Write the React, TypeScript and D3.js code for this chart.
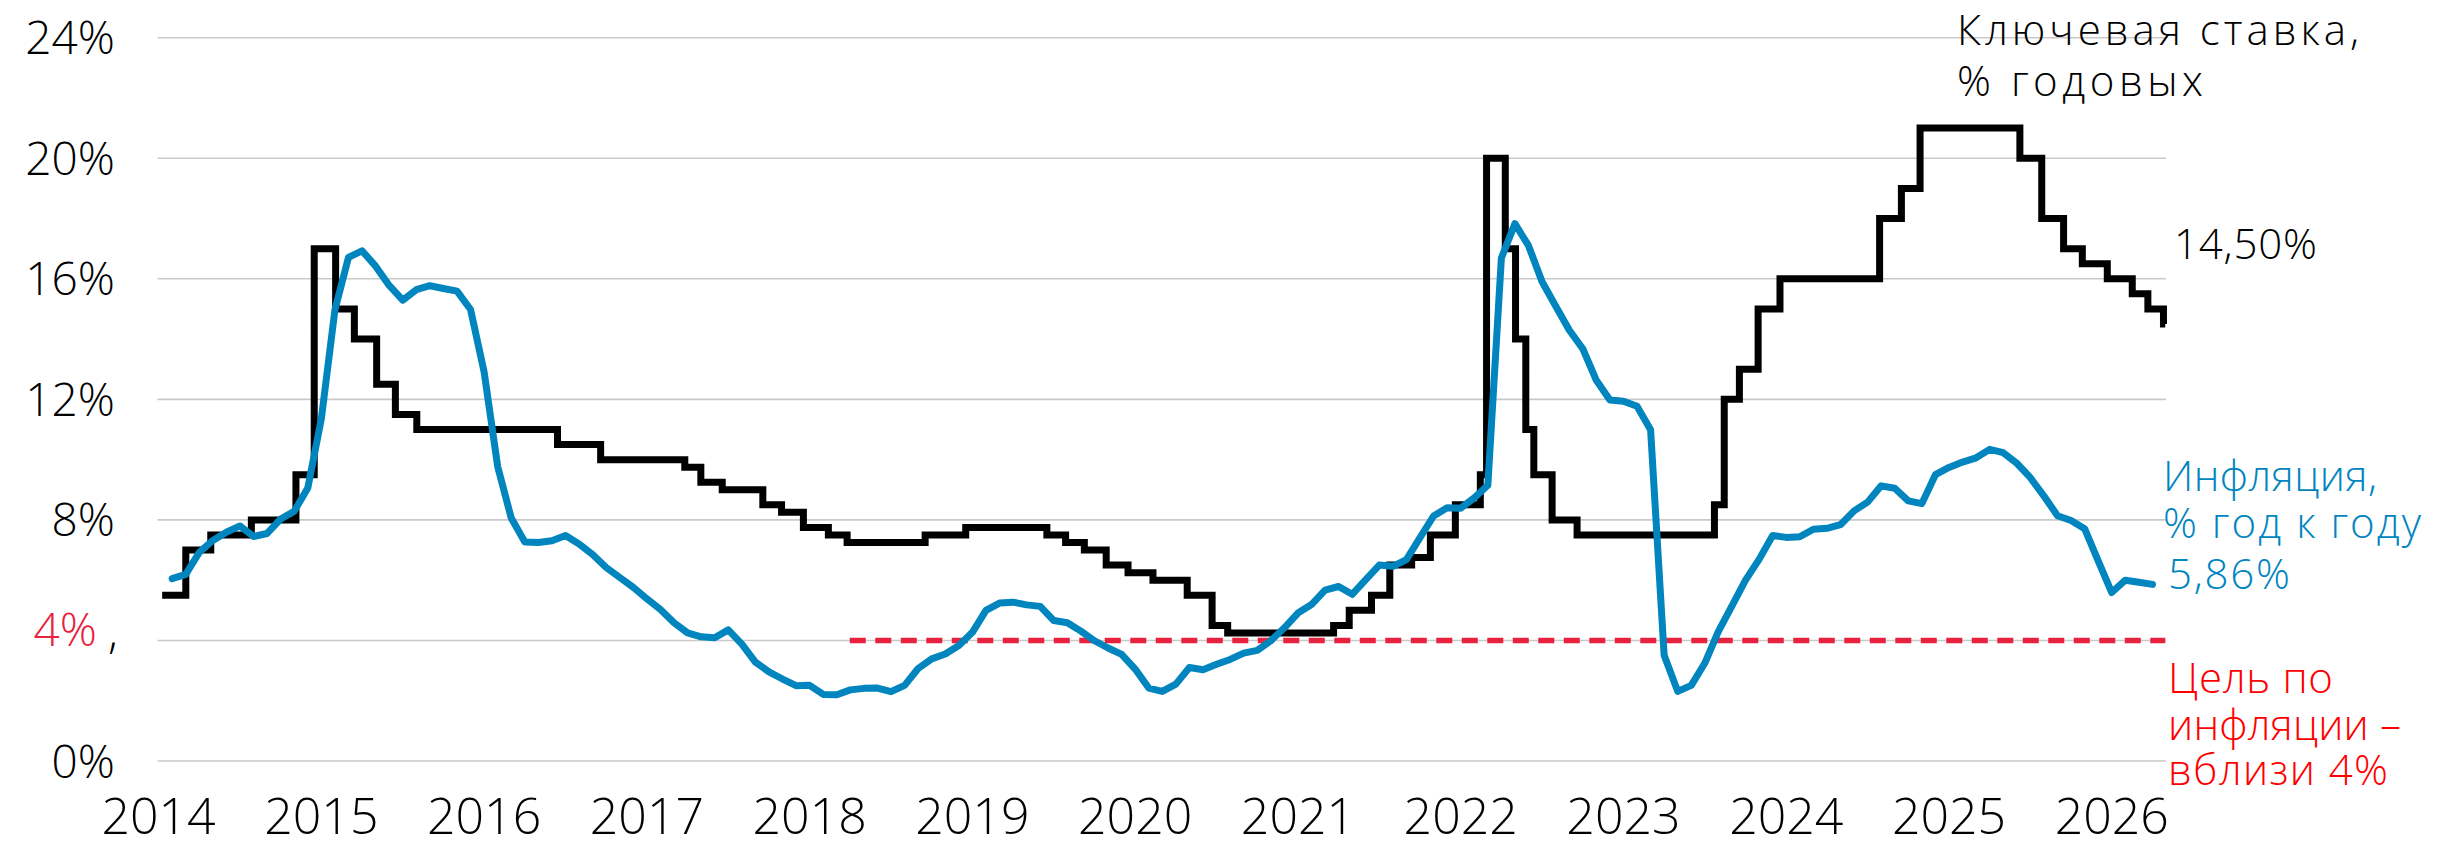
import React from 'react';
import * as d3 from 'd3';

// ---------- DATA ----------
const yearLabels = [2014, 2015, 2016, 2017, 2018, 2019, 2020, 2021, 2022, 2023, 2024, 2025, 2026];
const yTickValues = [0, 4, 8, 12, 16, 20, 24];

// Key rate: effective dates of changes and values (% per year)
const keyRateDates = [
  '2014-01-09', '2014-03-03', '2014-04-28', '2014-07-28', '2014-11-05', '2014-12-16',
  '2015-02-02', '2015-03-16', '2015-05-05', '2015-06-16', '2015-08-03',
  '2016-06-14', '2016-09-19',
  '2017-03-27', '2017-05-02', '2017-06-19', '2017-09-18', '2017-10-30', '2017-12-18',
  '2018-02-12', '2018-03-26', '2018-09-17', '2018-12-17',
  '2019-06-17', '2019-07-29', '2019-09-09', '2019-10-28', '2019-12-16',
  '2020-02-10', '2020-04-27', '2020-06-22', '2020-07-27',
  '2021-03-22', '2021-04-26', '2021-06-15', '2021-07-26', '2021-09-13', '2021-10-25', '2021-12-20',
  '2022-02-14', '2022-02-28', '2022-04-11', '2022-05-04', '2022-05-27', '2022-06-14', '2022-07-25', '2022-09-19',
  '2023-07-24', '2023-08-15', '2023-09-18', '2023-10-30', '2023-12-18',
  '2024-07-29', '2024-09-16', '2024-10-28',
  '2025-06-09', '2025-07-28', '2025-09-15', '2025-10-27', '2025-12-22',
  '2026-02-16', '2026-03-23', '2026-04-27',
];
const keyRateValues = [
  5.5, 7, 7.5, 8, 9.5, 17,
  15, 14, 12.5, 11.5, 11,
  10.5, 10,
  9.75, 9.25, 9, 8.5, 8.25, 7.75,
  7.5, 7.25, 7.5, 7.75,
  7.5, 7.25, 7, 6.5, 6.25,
  6, 5.5, 4.5, 4.25,
  4.5, 5, 5.5, 6.5, 6.75, 7.5, 8.5,
  9.5, 20, 17, 14, 11, 9.5, 8, 7.5,
  8.5, 12, 13, 15, 16,
  18, 19, 21,
  20, 18, 17, 16.5, 16,
  15.5, 15, 14.5,
];
const keyRateEndDate = '2026-05-01';

// CPI, % y/y, monthly from January 2014 to March 2026
const cpiStartYear = 2014;
const cpiValues = [
  6.05, 6.19, 6.92, 7.32, 7.59, 7.8, 7.45, 7.55, 8.03, 8.29, 9.06, 11.36,
  14.97, 16.71, 16.93, 16.42, 15.78, 15.29, 15.64, 15.77, 15.68, 15.59, 14.98, 12.91,
  9.77, 8.06, 7.27, 7.25, 7.31, 7.48, 7.2, 6.85, 6.42, 6.09, 5.76, 5.38,
  5.03, 4.59, 4.25, 4.12, 4.09, 4.35, 3.88, 3.28, 2.96, 2.72, 2.5, 2.51,
  2.21, 2.2, 2.36, 2.41, 2.42, 2.3, 2.51, 3.07, 3.39, 3.55, 3.83, 4.27,
  5.0, 5.24, 5.27, 5.18, 5.13, 4.66, 4.59, 4.31, 3.99, 3.75, 3.54, 3.05,
  2.42, 2.31, 2.55, 3.1, 3.03, 3.21, 3.37, 3.58, 3.67, 3.99, 4.42, 4.91,
  5.19, 5.67, 5.79, 5.53, 6.02, 6.5, 6.46, 6.68, 7.41, 8.13, 8.4, 8.39,
  8.73, 9.15, 16.69, 17.83, 17.1, 15.9, 15.1, 14.3, 13.68, 12.63, 11.98, 11.94,
  11.77, 10.99, 3.51, 2.31, 2.51, 3.25, 4.3, 5.15, 6.0, 6.69, 7.48, 7.42,
  7.44, 7.69, 7.72, 7.84, 8.3, 8.59, 9.13, 9.05, 8.63, 8.54, 9.5, 9.74,
  9.92, 10.06, 10.34, 10.23, 9.88, 9.4, 8.79, 8.14, 7.98, 7.71, 6.64, 5.59,
  6.0, 5.93, 5.86,
];

const targetValue = 4;
const targetStartDate = '2018-04-01';
const targetEndDate = '2026-05-01';

const rateLabel = ['Ключевая ставка,', '% годовых'];
const rateLastLabel = '14,50%';
const cpiLabel = ['Инфляция,', '% год к году'];
const cpiLastLabel = '5,86%';
const targetLabel = ['Цель по', 'инфляции –', 'вблизи 4%'];

// ---------- HELPERS ----------
const toYear = (s: string) => {
  const d = new Date(s + 'T00:00:00Z');
  const y = d.getUTCFullYear();
  const a = Date.UTC(y, 0, 1);
  const b = Date.UTC(y + 1, 0, 1);
  return y + (d.getTime() - a) / (b - a);
};

const W = 2438;
const H = 844;
const FONT = "'Open Sans', 'DejaVu Sans', sans-serif";
const BLUE = '#0085BF';
const RED = '#E8213E';
const TEXT_RED = '#FF0000';

type Ann = { text: string; x: number; y: number; w: number; fill: string };

export default function App() {
  const x = d3.scaleLinear().domain([2014, 2026 + 4 / 12]).range([158.6, 2166]);
  const y = d3.scaleLinear().domain([0, 24]).range([761, 37.7]);

  const ratePoints: [number, number][] = keyRateDates.map((d, i) => [toYear(d), keyRateValues[i]]);
  ratePoints.push([toYear(keyRateEndDate), keyRateValues[keyRateValues.length - 1]]);
  const rateLine = d3
    .line<[number, number]>()
    .x((d) => x(d[0]))
    .y((d) => y(d[1]))
    .curve(d3.curveStepAfter)(ratePoints);

  const cpiPoints: [number, number][] = cpiValues.map((v, i) => [cpiStartYear + (i + 1) / 12, v]);
  const cpiLine = d3
    .line<[number, number]>()
    .x((d) => x(d[0]))
    .y((d) => y(d[1]))(cpiPoints);

  const [gx0, gx1] = x.range();

  const anns: Ann[] = [
    { text: rateLabel[0], x: 1957, y: 45, w: 402, fill: '#000' },
    { text: rateLabel[1], x: 1957, y: 96, w: 246, fill: '#000' },
    { text: rateLastLabel, x: 2174, y: 259, w: 143, fill: '#000' },
    { text: cpiLabel[0], x: 2163, y: 491, w: 214, fill: BLUE },
    { text: cpiLabel[1], x: 2163, y: 538, w: 258, fill: BLUE },
    { text: cpiLastLabel, x: 2168, y: 589, w: 122, fill: BLUE },
    { text: targetLabel[0], x: 2168, y: 693, w: 165, fill: TEXT_RED },
    { text: targetLabel[1], x: 2168, y: 740, w: 233, fill: TEXT_RED },
    { text: targetLabel[2], x: 2168, y: 785, w: 220, fill: TEXT_RED },
  ];

  return (
    <svg
      width={W}
      height={H}
      style={{ position: 'absolute', left: 0, top: 0, background: '#fff' }}
      fontFamily={FONT}
    >
      <rect width={W} height={H} fill="#fff" />
      {/* gridlines */}
      {yTickValues.map((v) => (
        <line key={v} x1={gx0 - 1} x2={gx1} y1={y(v)} y2={y(v)} stroke="#C9C9C9" strokeWidth={1.6} />
      ))}
      {/* y tick labels */}
      {yTickValues.map((v) =>
        v === targetValue ? (
          <g key={v}>
            <text x={97} y={y(v) + 6} textAnchor="end" fontSize={46} fontWeight={300} fill={RED}>
              {v}%
            </text>
            <text x={108} y={y(v) + 8} fontSize={46} fontWeight={300} fill="#000">
              ,
            </text>
          </g>
        ) : (
          <text key={v} x={115} y={y(v) + 16.5} textAnchor="end" fontSize={46} fontWeight={300} fill="#000">
            {v}%
          </text>
        )
      )}
      {/* x labels */}
      {yearLabels.map((yr) => (
        <text key={yr} x={x(yr)} y={834} textAnchor="middle" fontSize={50} fontWeight={300} fill="#000">
          {yr}
        </text>
      ))}
      {/* target line */}
      <line
        x1={x(toYear(targetStartDate))}
        x2={x(toYear(targetEndDate))}
        y1={y(targetValue)}
        y2={y(targetValue)}
        stroke={RED}
        strokeWidth={5.5}
        strokeDasharray="16 9.5"
      />
      {/* key rate */}
      <path d={rateLine || ''} fill="none" stroke="#000" strokeWidth={7} strokeLinejoin="miter" />
      {/* CPI */}
      <path d={cpiLine || ''} fill="none" stroke={BLUE} strokeWidth={7} strokeLinejoin="round" strokeLinecap="round" />

      {/* annotations */}
      {anns.map((a) => (
        <text
          key={a.text}
          x={a.x}
          y={a.y}
          fontSize={42}
          fontWeight={300}
          fill={a.fill}
          textLength={a.w}
          lengthAdjust="spacing"
        >
          {a.text}
        </text>
      ))}
    </svg>
  );
}
